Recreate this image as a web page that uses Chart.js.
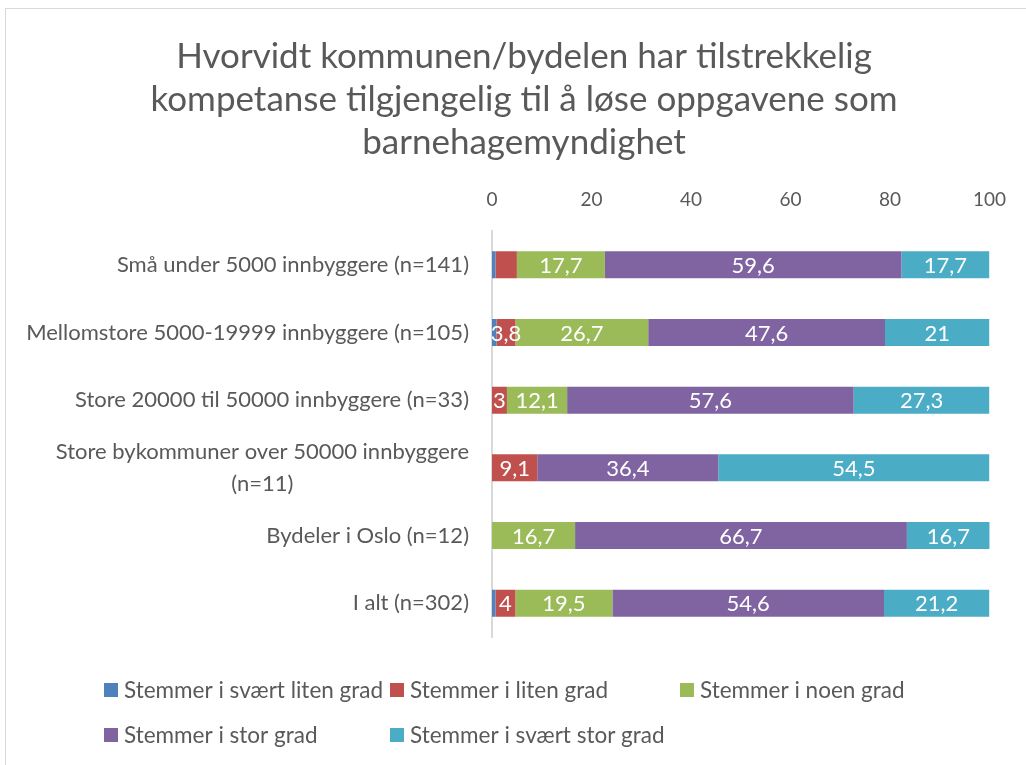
<!DOCTYPE html>
<html>
<head>
<meta charset="utf-8">
<script src="https://cdn.jsdelivr.net/npm/chart.js@4/dist/chart.umd.min.js"></script>
<style>
  html, body { margin: 0; padding: 0; background: #fff; }
  #wrap { width: 1026px; height: 765px; }
</style>
</head>
<body>
<div id="wrap"><canvas id="chart" width="1026" height="765"></canvas></div>
<script>
// Kategorier (kommunestørrelse) og andeler i prosent
const categories = [
  'Små under 5000 innbyggere (n=141)',
  'Mellomstore 5000-19999 innbyggere (n=105)',
  'Store 20000 til 50000 innbyggere (n=33)',
  ['Store bykommuner over 50000 innbyggere', '(n=11)'],
  'Bydeler i Oslo (n=12)',
  'I alt (n=302)'
];
const seriesNames = [
  'Stemmer i svært liten grad',
  'Stemmer i liten grad',
  'Stemmer i noen grad',
  'Stemmer i stor grad',
  'Stemmer i svært stor grad'
];
const svaertLiten = [0.7, 0.9, null, null, null, 0.7];
const liten = [4.3, 3.8, 3, 9.1, null, 4];
const noen = [17.7, 26.7, 12.1, null, 16.7, 19.5];
const stor = [59.6, 47.6, 57.6, 36.4, 66.7, 54.6];
const svaertStor = [17.7, 21, 27.3, 54.5, 16.7, 21.2];
const xTicks = [0, 20, 40, 60, 80, 100];
const titleLines = [
  'Hvorvidt kommunen/bydelen har tilstrekkelig',
  'kompetanse tilgjengelig til å løse oppgavene som',
  'barnehagemyndighet'
];
// etiketter som ikke vises (serie, kategori)
const hiddenLabels = [[1, 0]];

const colors = ['#4F81BD', '#C0504D', '#9BBB59', '#8064A2', '#4BACC6'];
const FONT = 'Lato, "Open Sans", sans-serif';
const TEXT = '#595959';

// hvit bakgrunn, tynn ramme og tittel
const frame = {
  id: 'frame',
  beforeDraw(chart) {
    const ctx = chart.ctx;
    ctx.save();
    ctx.fillStyle = '#fff';
    ctx.fillRect(0, 0, chart.width, chart.height);
    ctx.strokeStyle = '#d9d9d9';
    ctx.lineWidth = 1;
    ctx.strokeRect(5.5, 8.5, chart.width + 10, chart.height + 10);
    ctx.font = '35px ' + FONT;
    ctx.fillStyle = TEXT;
    ctx.textAlign = 'center';
    ctx.textBaseline = 'middle';
    titleLines.forEach((l, k) => ctx.fillText(l, 524, 57 + k * 43));
    ctx.restore();
  }
};

// kategorinavn til venstre, høyrejustert blokk med sentrerte linjer
const catLabels = {
  id: 'catLabels',
  afterDraw(chart) {
    const ctx = chart.ctx;
    const y = chart.scales.y;
    const right = chart.chartArea.left - 23;
    ctx.save();
    ctx.font = '22px ' + FONT;
    ctx.fillStyle = TEXT;
    ctx.textBaseline = 'middle';
    ctx.textAlign = 'center';
    categories.forEach((c, i) => {
      const lines = Array.isArray(c) ? c : [c];
      const lh = 32;
      const cy = y.getPixelForValue(i);
      const w = Math.max(...lines.map(l => ctx.measureText(l).width));
      const mid = right - w / 2;
      lines.forEach((l, k) => {
        ctx.fillText(l, mid, cy + (k - (lines.length - 1) / 2) * lh);
      });
    });
    ctx.restore();
  }
};

const valueLabels = {
  id: 'valueLabels',
  afterDatasetsDraw(chart) {
    const ctx = chart.ctx;
    ctx.save();
    ctx.font = '22px ' + FONT;
    ctx.fillStyle = '#fff';
    ctx.textAlign = 'center';
    ctx.textBaseline = 'middle';
    chart.data.datasets.forEach((ds, d) => {
      chart.getDatasetMeta(d).data.forEach((bar, i) => {
        const v = ds.data[i];
        if (v == null || v < 3) return;
        if (hiddenLabels.some(h => h[0] === d && h[1] === i)) return;
        ctx.fillText(String(v).replace('.', ','), (bar.x + bar.base) / 2, bar.y + 1);
      });
    });
    ctx.restore();
  }
};

const gridLegend = {
  id: 'gridLegend',
  afterDraw(chart) {
    const ctx = chart.ctx;
    const cols = [104, 390, 680];
    const rows = [690, 735];
    ctx.save();
    ctx.font = '22.5px ' + FONT;
    ctx.textBaseline = 'middle';
    ctx.textAlign = 'left';
    seriesNames.forEach((name, i) => {
      const x = cols[i % 3];
      const y = rows[Math.floor(i / 3)];
      ctx.fillStyle = colors[i];
      ctx.fillRect(x, y - 7, 14, 14);
      ctx.fillStyle = TEXT;
      ctx.fillText(name, x + 20, y + 1);
    });
    ctx.restore();
  }
};

const seriesData = [svaertLiten, liten, noen, stor, svaertStor];

new Chart(document.getElementById('chart'), {
  type: 'bar',
  data: {
    labels: categories,
    datasets: seriesNames.map((name, i) => ({
      label: name,
      data: seriesData[i],
      backgroundColor: colors[i],
      borderWidth: 0,
      categoryPercentage: 0.4,
      barPercentage: 1
    }))
  },
  options: {
    indexAxis: 'y',
    responsive: false,
    animation: false,
    devicePixelRatio: 1,
    layout: { padding: { left: 492, right: 36, top: 164, bottom: 128 } },
    plugins: {
      legend: { display: false },
      tooltip: { enabled: false },
      title: { display: false }
    },
    scales: {
      x: {
        position: 'top',
        stacked: true,
        min: 0,
        max: 100,
        afterBuildTicks(scale) {
          scale.ticks = xTicks.map(v => ({ value: v }));
        },
        afterFit(scale) { scale.height = 67; },
        grid: { display: false, drawTicks: false },
        border: { display: false },
        ticks: { color: TEXT, font: { family: FONT, size: 19 }, padding: 20 }
      },
      y: {
        stacked: true,
        grid: { display: false, drawTicks: false },
        border: { display: true, color: '#d9d9d9', width: 2 },
        ticks: { display: false }
      }
    }
  },
  plugins: [frame, catLabels, valueLabels, gridLegend]
});
</script>
</body>
</html>
